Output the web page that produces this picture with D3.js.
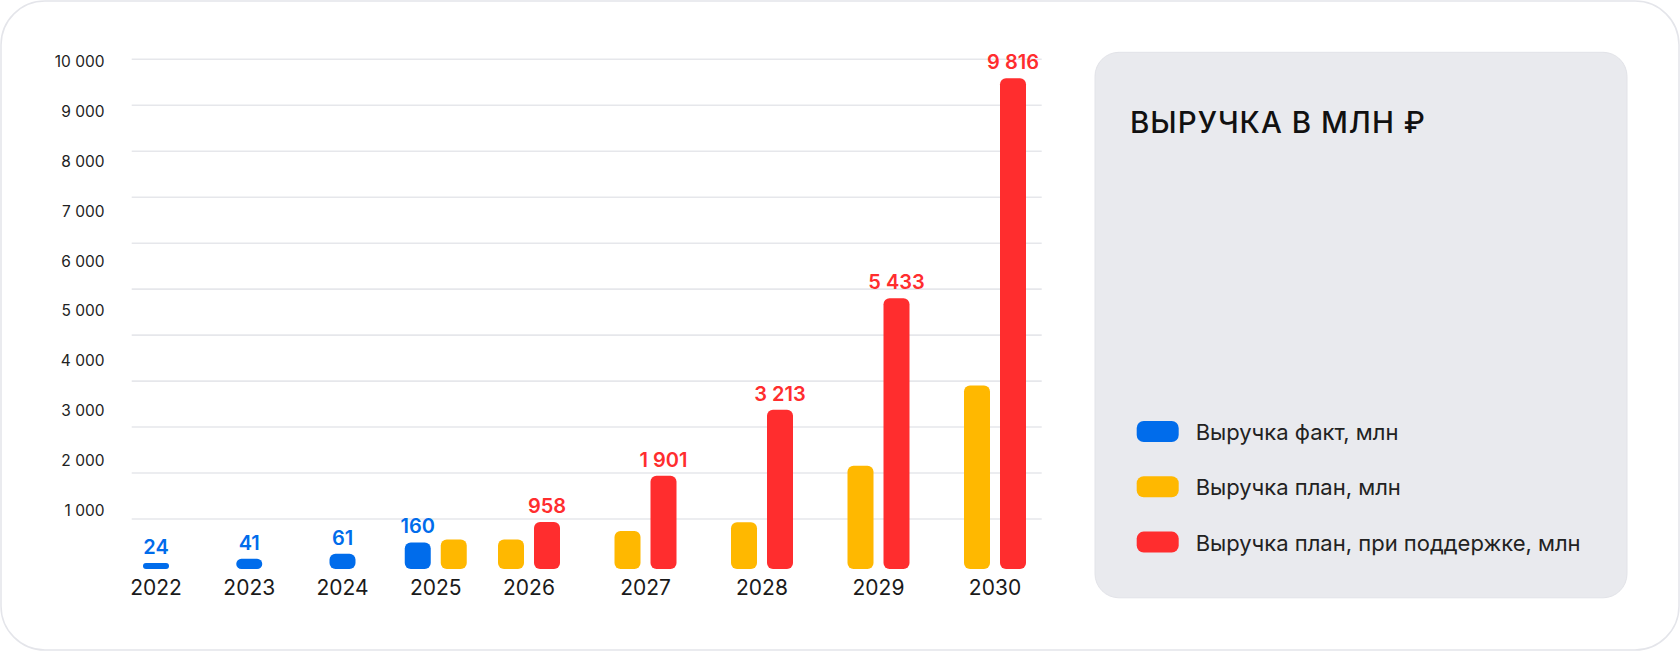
<!DOCTYPE html>
<html>
<head>
<meta charset="utf-8">
<script src="https://cdn.jsdelivr.net/npm/d3@7"></script>
<style>
  body { margin: 0; background: #fff; }
  svg { display: block; font-family: Inter, "Noto Sans", sans-serif; }
</style>
</head>
<body>
<div id="container"></div>
<script>
// Data
const years = [2022, 2023, 2024, 2025, 2026, 2027, 2028, 2029, 2030];
const factValues = [24, 41, 61, 160, null, null, null, null, null];
const planValues = [null, null, null, 280, 280, 610, 950, 2100, 3700];
const supportValues = [null, null, null, null, 958, 1901, 3213, 5433, 9816];
const seriesNames = [
  "Выручка факт, млн",
  "Выручка план, млн",
  "Выручка план, при поддержке, млн"
];
const seriesColors = ["#006ceb", "#ffb800", "#ff2d2e"];
const seriesLabeled = [true, false, true];
const tickValues = [1000, 2000, 3000, 4000, 5000, 6000, 7000, 8000, 9000, 10000];
const gridValues = [0, 1000, 2000, 3000, 4000, 5000, 6000, 7000, 8000, 9000, 10000];
const title = "ВЫРУЧКА В МЛН ₽";

const w = 1680;
const h = 651;
const baseline = 569;
const barW = 26;
const barGap = 10;

const fmt = d3.formatLocale({ decimal: ",", thousands: " ", grouping: [3], currency: ["", ""] }).format(",");

let svg = d3
  .select("#container")
  .append("svg")
  .attr("width", w)
  .attr("height", h);

// outer frame
svg
  .append("rect")
  .attr("x", 1)
  .attr("y", 1)
  .attr("width", w - 2)
  .attr("height", h - 2)
  .attr("rx", 44)
  .attr("fill", "#fff")
  .attr("stroke", "#e4e5ea")
  .attr("stroke-width", 1.5);

//Scales
// group spacing widens to the right (two-bar groups), like in the original layout
const xScale = d3
  .scaleLinear()
  .domain([years[0], 2026, years[years.length - 1]])
  .range([156, 529, 995]);

// gridlines and tick labels are laid out on their own, evenly spaced
const yGrid = d3.scaleLinear().domain([0, 10000]).range([519, 59.3]);
const yLabel = d3.scaleLinear().domain([0, 10000]).range([560.2, 61.7]);

// bar scale: low end stretched so small values stay visible
const yBar = d3
  .scaleLinear()
  .domain([0, 100, 1000, 10000])
  .range([baseline, baseline - 25, baseline - 48, baseline - 500]);

//Gridlines
svg
  .append("g")
  .selectAll("line")
  .data(gridValues)
  .enter()
  .append("line")
  .attr("x1", 131.7)
  .attr("x2", 1041.7)
  .attr("y1", (d) => yGrid(d))
  .attr("y2", (d) => yGrid(d))
  .attr("stroke", "#e6e7eb")
  .attr("stroke-width", 1.6);

//Axis labels
const yAxis = d3
  .axisLeft(yLabel)
  .tickValues(tickValues)
  .tickSize(0)
  .tickPadding(0)
  .tickFormat(fmt);

svg
  .append("g")
  .attr("transform", "translate(104.5, 0)")
  .call(yAxis)
  .call((g) => g.select(".domain").remove())
  .call((g) =>
    g
      .selectAll("text")
      .attr("fill", "#222")
      .style("font-size", "15.5px")
      .style("font-family", "Inter, sans-serif")
  );

//Bars
let bars = [];
years.forEach((year, i) => {
  const vals = [factValues[i], planValues[i], supportValues[i]];
  const present = [];
  vals.forEach((v, s) => {
    if (v != null) present.push(s);
  });
  const n = present.length;
  const half = (n * barW + (n - 1) * barGap) / 2;
  const inner = d3
    .scaleBand()
    .domain(d3.range(n))
    .range([-half, half])
    .paddingInner(n > 1 ? barGap / (barW + barGap) : 0);
  present.forEach((s, k) => {
    bars.push({
      year: year,
      series: s,
      value: vals[s],
      x: xScale(year) + inner(k),
      width: inner.bandwidth()
    });
  });
});

svg
  .append("g")
  .selectAll("rect")
  .data(bars)
  .enter()
  .append("rect")
  .attr("x", (d) => d.x)
  .attr("y", (d) => yBar(d.value))
  .attr("width", (d) => d.width)
  .attr("height", (d) => baseline - yBar(d.value))
  .attr("rx", (d) => Math.min(6, (baseline - yBar(d.value)) / 2))
  .attr("fill", (d) => seriesColors[d.series]);

//Value labels
svg
  .append("g")
  .selectAll("text")
  .data(bars.filter((d) => seriesLabeled[d.series]))
  .enter()
  .append("text")
  .attr("x", (d) => d.x + d.width / 2)
  .attr("y", (d) => yBar(d.value) - 9)
  .attr("text-anchor", "middle")
  .attr("fill", (d) => seriesColors[d.series])
  .style("font-size", "20px")
  .style("font-weight", 600)
  .text((d) => fmt(d.value));

//Year labels
svg
  .append("g")
  .selectAll("text")
  .data(years)
  .enter()
  .append("text")
  .attr("x", (d) => xScale(d))
  .attr("y", 595)
  .attr("text-anchor", "middle")
  .attr("fill", "#1a1a1a")
  .style("font-size", "21px")
  .text((d) => d);

//Legend card
svg
  .append("rect")
  .attr("x", 1095)
  .attr("y", 52.3)
  .attr("width", 532)
  .attr("height", 545.5)
  .attr("rx", 24)
  .attr("fill", "#e9eaee")
  .attr("stroke", "#e2e3e8")
  .attr("stroke-width", 1);

svg
  .append("text")
  .attr("x", 1130)
  .attr("y", 133.3)
  .attr("fill", "#111")
  .style("font-size", "29.5px")
  .style("font-weight", 500)
  .style("letter-spacing", "1px")
  .text(title);

let legend = svg
  .append("g")
  .selectAll("g")
  .data(seriesNames)
  .enter()
  .append("g")
  .attr("transform", (d, i) => "translate(1136.7, " + (421 + i * 55.3) + ")");

legend
  .append("rect")
  .attr("width", 42)
  .attr("height", 21)
  .attr("rx", 7)
  .attr("fill", (d, i) => seriesColors[i]);

legend
  .append("text")
  .attr("x", 59)
  .attr("y", 19)
  .attr("fill", "#222")
  .style("font-size", "22px")
  .text((d) => d);
</script>
</body>
</html>
